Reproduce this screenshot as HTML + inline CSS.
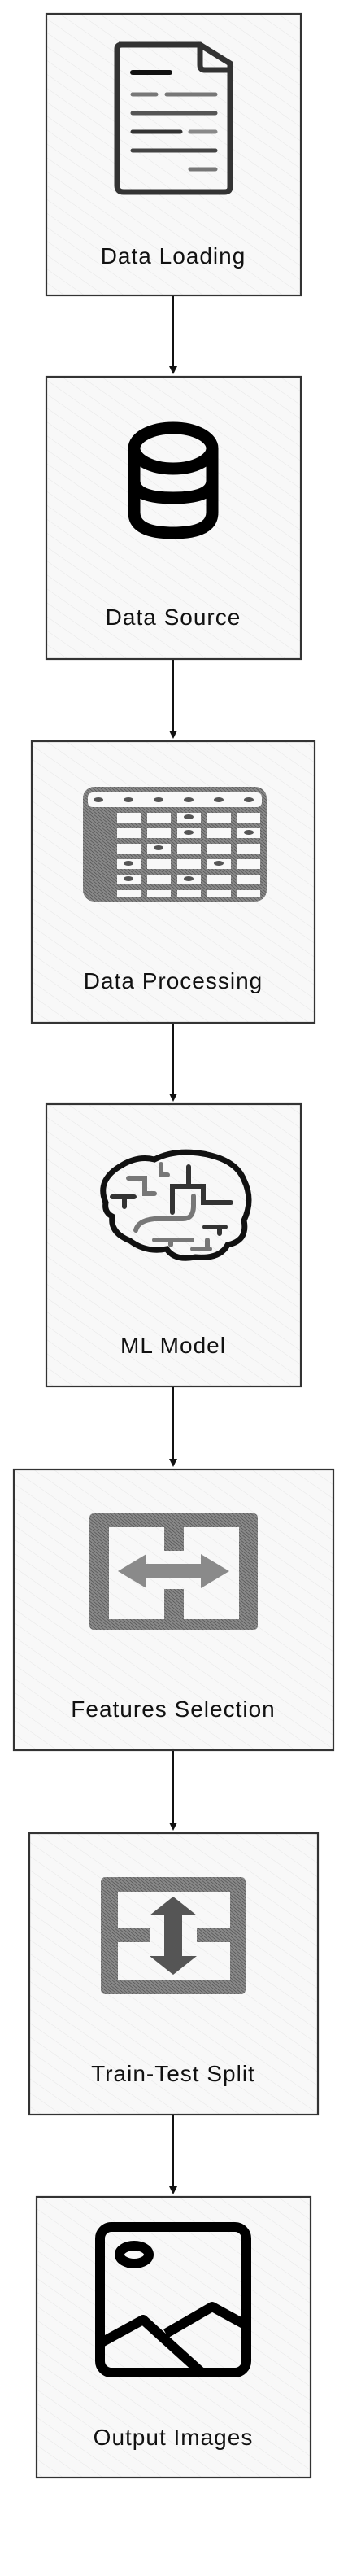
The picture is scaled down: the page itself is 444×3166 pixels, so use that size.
<!DOCTYPE html>
<html><head><meta charset="utf-8"><style>
html,body{margin:0;padding:0;background:#fff;}
svg{display:block;}
text{font-family:"Liberation Sans",sans-serif;font-size:28px;fill:#111;text-anchor:middle;letter-spacing:1px;}
</style></head><body>
<svg width="444" height="3166" viewBox="0 0 444 3166" xmlns="http://www.w3.org/2000/svg">
<defs>
<pattern id="h" width="14" height="14" patternUnits="userSpaceOnUse" patternTransform="rotate(-55)">
<rect width="14" height="14" fill="#f8f8f8"/><line x1="0" y1="0" x2="0" y2="14" stroke="#e6e6e6" stroke-width="1"/></pattern>
<pattern id="g" width="3" height="3" patternUnits="userSpaceOnUse" patternTransform="rotate(-50)">
<rect width="3" height="3" fill="#888"/><line x1="0" y1="0" x2="0" y2="3" stroke="#444" stroke-width="1.1"/></pattern>
<marker id="a" markerWidth="10" markerHeight="10" refX="8" refY="5" orient="auto" markerUnits="userSpaceOnUse"><path d="M0,0 L10,5 L0,10 z" fill="#111"/></marker>
</defs>
<g stroke="#333" stroke-width="2.2" fill="url(#h)">
<rect x="57" y="17" width="313" height="346"/>
<rect x="57" y="463" width="313" height="347"/>
<rect x="39" y="911" width="348" height="346"/>
<rect x="57" y="1357" width="313" height="347"/>
<rect x="17" y="1806" width="393" height="345"/>
<rect x="36" y="2253" width="355" height="346"/>
<rect x="45" y="2700" width="337" height="345"/>
</g>
<g stroke="#111" stroke-width="2" fill="none">
<path d="M213 364 V458" marker-end="url(#a)"/>
<path d="M213 811 V906" marker-end="url(#a)"/>
<path d="M213 1258 V1352" marker-end="url(#a)"/>
<path d="M213 1705 V1801" marker-end="url(#a)"/>
<path d="M213 2152 V2248" marker-end="url(#a)"/>
<path d="M213 2600 V2695" marker-end="url(#a)"/>
</g>
<!-- doc -->
<g fill="none" stroke="#333" stroke-linecap="round">
<path d="M146 55 H246 L283 78 V230 Q283 236 276 236 H152 Q144 236 144 228 V60 Q144 55 150 55 Z" stroke-width="7"/>
<path d="M246 55 V80 Q246 86 252 86 H283" stroke-width="7"/>
<line x1="163" y1="89" x2="209" y2="89" stroke="#111" stroke-width="6"/>
<line x1="163" y1="116" x2="192" y2="116" stroke="#777" stroke-width="5"/>
<line x1="205" y1="116" x2="265" y2="116" stroke="#777" stroke-width="5"/>
<line x1="163" y1="139" x2="265" y2="139" stroke="#555" stroke-width="5"/>
<line x1="163" y1="162" x2="222" y2="162" stroke="#333" stroke-width="5"/>
<line x1="234" y1="162" x2="265" y2="162" stroke="#888" stroke-width="5"/>
<line x1="163" y1="185" x2="265" y2="185" stroke="#444" stroke-width="5"/>
<line x1="234" y1="208" x2="265" y2="208" stroke="#777" stroke-width="5"/>
</g>
<text x="213" y="324">Data Loading</text>
<!-- db -->
<g fill="none" stroke="#000" stroke-width="15">
<ellipse cx="213" cy="551" rx="48" ry="25"/>
<path d="M165 551 V630 Q165 655 213 655 Q261 655 261 630 V551"/>
<path d="M165 591 Q165 612 213 612 Q261 612 261 591"/>
</g>
<text x="213" y="768">Data Source</text>
<!-- table -->
<g>
<rect x="102" y="967" width="226" height="141" rx="14" fill="url(#g)"/>
<g fill="#f8f8f8">
<rect x="144" y="999" width="29" height="12"/><rect x="181" y="999" width="29" height="12"/><rect x="218" y="999" width="29" height="12"/><rect x="255" y="999" width="29" height="12"/><rect x="292" y="999" width="28" height="12"/>
<rect x="144" y="1018" width="29" height="12"/><rect x="181" y="1018" width="29" height="12"/><rect x="218" y="1018" width="29" height="12"/><rect x="255" y="1018" width="29" height="12"/><rect x="292" y="1018" width="28" height="12"/>
<rect x="144" y="1037" width="29" height="12"/><rect x="181" y="1037" width="29" height="12"/><rect x="218" y="1037" width="29" height="12"/><rect x="255" y="1037" width="29" height="12"/><rect x="292" y="1037" width="28" height="12"/>
<rect x="144" y="1056" width="29" height="12"/><rect x="181" y="1056" width="29" height="12"/><rect x="218" y="1056" width="29" height="12"/><rect x="255" y="1056" width="29" height="12"/><rect x="292" y="1056" width="28" height="12"/>
<rect x="144" y="1075" width="29" height="12"/><rect x="181" y="1075" width="29" height="12"/><rect x="218" y="1075" width="29" height="12"/><rect x="255" y="1075" width="29" height="12"/><rect x="292" y="1075" width="28" height="12"/>
<rect x="144" y="1094" width="29" height="8"/><rect x="181" y="1094" width="29" height="8"/><rect x="218" y="1094" width="29" height="8"/><rect x="255" y="1094" width="29" height="8"/><rect x="292" y="1094" width="28" height="8"/>
<rect x="108" y="974" width="214" height="18" rx="6"/>
</g>
<g fill="#555">
<ellipse cx="121" cy="983" rx="6" ry="3"/><ellipse cx="158" cy="983" rx="6" ry="3"/><ellipse cx="195" cy="983" rx="6" ry="3"/><ellipse cx="232" cy="983" rx="6" ry="3"/><ellipse cx="269" cy="983" rx="6" ry="3"/><ellipse cx="306" cy="983" rx="6" ry="3"/>
<ellipse cx="232" cy="1004" rx="6" ry="3"/><ellipse cx="232" cy="1023" rx="6" ry="3"/><ellipse cx="306" cy="1023" rx="6" ry="3"/><ellipse cx="195" cy="1042" rx="6" ry="3"/><ellipse cx="158" cy="1061" rx="6" ry="3"/><ellipse cx="269" cy="1061" rx="6" ry="3"/><ellipse cx="158" cy="1080" rx="6" ry="3"/><ellipse cx="232" cy="1080" rx="6" ry="3"/>
</g>
</g>
<text x="213" y="1215">Data Processing</text>
<!-- brain -->
<g fill="none" stroke-linecap="round">
<path d="M130 1478 Q118 1450 150 1432 Q170 1420 190 1425 Q215 1412 250 1418 Q290 1425 300 1450 Q312 1475 300 1500 Q305 1525 280 1530 Q270 1548 240 1545 Q215 1550 205 1535 Q180 1540 160 1525 Q135 1515 138 1495 Q128 1490 130 1478 Z" stroke="#111" stroke-width="7"/>
<g stroke="#333" stroke-width="6">
<path d="M138 1471 H165 M153 1471 V1483"/>
<path d="M212 1490 V1458 H250 V1478 H284 M232 1458 V1434"/>
<path d="M252 1508 H277 M270 1508 V1516"/>
</g>
<g stroke="#777" stroke-width="6">
<path d="M158 1448 H178 V1467 H190"/>
<path d="M167 1512 Q170 1500 190 1498 H225 Q238 1498 238 1482 V1470"/>
<path d="M190 1524 H236 M210 1524 V1530"/>
<path d="M237 1535 H258 M255 1535 V1524"/>
<path d="M198 1431 V1444 H206"/>
</g>
</g>
<text x="213" y="1663">ML Model</text>
<!-- features -->
<g>
<path fill-rule="evenodd" fill="url(#g)" d="M116 1860 H311 Q317 1860 317 1866 V1998 Q317 2003 311 2003 H116 Q110 2003 110 1997 V1866 Q110 1860 116 1860 Z M134 1877 V1990 H202 V1953 H226 V1990 H294 V1877 H226 V1906 H202 V1877 Z"/>
<path fill="#8a8a8a" d="M145 1931 L180 1910 V1922 H247 V1910 L282 1931 L247 1952 V1940 H180 V1952 Z"/>
</g>
<text x="213" y="2110">Features Selection</text>
<!-- train test -->
<g>
<path fill-rule="evenodd" fill="url(#g)" d="M130 2307 H296 Q302 2307 302 2313 V2445 Q302 2451 296 2451 H130 Q124 2451 124 2445 V2313 Q124 2307 130 2307 Z M145 2325 V2370 H184 V2387 H145 V2433 H283 V2387 H242 V2370 H283 V2325 Z"/>
<path fill="#555" d="M213 2331 L242 2354 H224 V2404 H242 L213 2427 L184 2404 H202 V2354 H184 Z"/>
</g>
<text x="213" y="2558">Train-Test Split</text>
<!-- image -->
<g fill="none" stroke="#000" stroke-width="12" stroke-linejoin="round">
<rect x="123" y="2737" width="180" height="179" rx="14"/>
<ellipse cx="165" cy="2771" rx="18" ry="11"/>
<path d="M123 2880 L176 2851 L248 2916 M204 2868 L261 2835 L303 2858"/>
</g>
<text x="213" y="3005">Output Images</text>
</svg>
</body></html>
